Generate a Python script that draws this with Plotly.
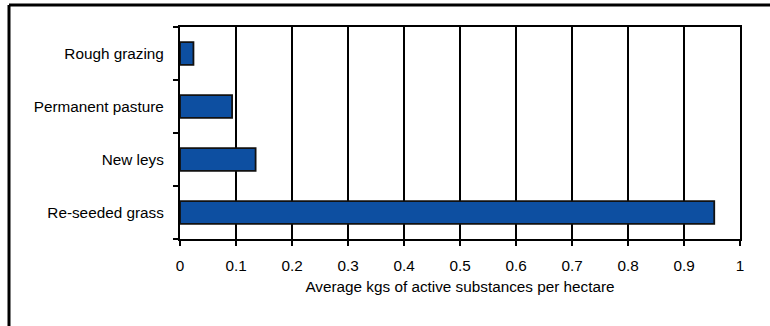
import plotly.graph_objects as go

# Grassland categories (bottom to top) and average active substance per hectare
categories = ["Re-seeded grass", "New leys", "Permanent pasture", "Rough grazing"]
values = [0.954, 0.135, 0.093, 0.024]
x_ticks = [0, 0.1, 0.2, 0.3, 0.4, 0.5, 0.6, 0.7, 0.8, 0.9, 1]
x_tick_labels = ["0", "0.1", "0.2", "0.3", "0.4", "0.5", "0.6", "0.7", "0.8", "0.9", "1"]

W, H = 770, 326
ML, MR, MT, MB = 180, 30, 27, 87
pw, ph = W - ML - MR, H - MT - MB

def px_x(p):
    return (p - ML) / pw

def px_y(p):
    return (H - MB - p) / ph

fig = go.Figure(go.Bar(
    y=categories,
    x=values,
    orientation="h",
    marker=dict(color="#0D4FA1", line=dict(color="#111111", width=1.8)),
))

font = dict(family="Liberation Sans, Arial, sans-serif", size=15.3, color="#000000")

fig.update_layout(
    width=W, height=H,
    margin=dict(l=ML, r=MR, t=MT, b=MB),
    paper_bgcolor="white", plot_bgcolor="white",
    bargap=0.57,
    showlegend=False,
    font=font,
    xaxis=dict(
        range=[0, 1], tickvals=x_ticks, ticktext=x_tick_labels,
        showgrid=True, gridcolor="#000000", gridwidth=2.2,
        showline=True, linecolor="#000000", linewidth=2.2, mirror=True,
        ticks="outside", ticklen=5, tickwidth=2, tickcolor="#000000",
        zeroline=False, ticklabelstandoff=7,
        title=dict(text="Average kgs of active substances per hectare", standoff=8, font=font),
    ),
    yaxis=dict(
        categoryorder="array", categoryarray=categories,
        tickson="boundaries", ticks="outside", ticklen=5, tickwidth=2, tickcolor="#000000",
        showgrid=False, showline=True, linecolor="#000000", linewidth=2.2, mirror=True,
        zeroline=False, ticklabelstandoff=11,
    ),
    shapes=[
        # outer frame: left and top edges of the chart box
        dict(type="line", xref="paper", yref="paper",
             x0=px_x(9), x1=px_x(9), y0=px_y(5), y1=px_y(H + 5),
             line=dict(color="#000000", width=3)),
        dict(type="line", xref="paper", yref="paper",
             x0=px_x(9), x1=px_x(W + 5), y0=px_y(5), y1=px_y(5),
             line=dict(color="#000000", width=3)),
    ],
)

fig.write_html("out.html")
